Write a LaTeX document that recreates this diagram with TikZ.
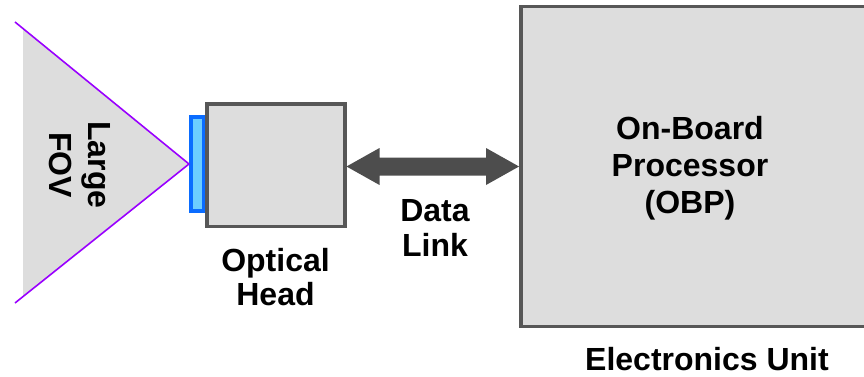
\documentclass[tikz,border=0pt]{standalone}
\usepackage{fontspec}
\setmainfont{Liberation Sans}
\usetikzlibrary{calc}
\definecolor{boxfill}{HTML}{DDDDDD}
\definecolor{boxline}{HTML}{575757}
\definecolor{arrowgrey}{HTML}{4D4D4D}
\definecolor{fovline}{HTML}{9900FF}
\definecolor{lensfill}{HTML}{6CCDFF}
\definecolor{lensline}{HTML}{0A6CFF}
\begin{document}
\begin{tikzpicture}[x=1pt,y=-1pt,
  unitbox/.style={draw=boxline,fill=boxfill,line width=3.5pt,inner sep=0pt},
  lensbox/.style={draw=lensline,fill=lensfill,line width=4pt,inner sep=0pt,
    minimum width=13pt,minimum height=94pt},
  lbl/.style={font=\bfseries\fontsize{32}{#1}\selectfont,align=center,inner sep=0pt},
  lbl/.default=34.5,
  fovray/.style={draw=fovline,line width=1.6pt}]
\useasboundingbox (0,0) rectangle (864,377);
% field of view
\coordinate (fovtop) at (15,22);
\coordinate (fovbot) at (15,303);
\node[lensbox] (lens) at (197.5,164) {};
\fill[boxfill] (23,28.4) -- (lens.west) -- (23,296.6) -- cycle;
\draw[fovray] (fovtop) -- (lens.west) -- (fovbot);
\node[lbl=38.4,rotate=-90] (fov) at (80,165) {Large\\FOV};
% optical head
\node[unitbox,minimum width=138pt,minimum height=122.5pt] (oh) at (275.75,165.3) {};
\node[lbl=34] (ohlbl) at (275.5,277.5) {Optical\\Head};
% electronics unit
\node[unitbox,minimum width=345.25pt,minimum height=319.5pt] (eu) at (693.4,166.5) {};
\node[lbl=37] (obp) at (690,168.5) {On-Board\\Processor\\(OBP)};
\node[lbl,anchor=base] (eulbl) at (707,370) {Electronics Unit};
% data link arrow
\fill[arrowgrey] (oh.east |- eu.west) -- ++(33,-18.5) -- ++(0,9.5)
  -- ($(eu.west)+(-33,-9)$) -- ++(0,-9.5) -- (eu.west) -- ++(-33,18.5)
  -- ++(0,-9.5) -- ($(oh.east |- eu.west)+(33,9)$) -- ++(0,9.5) -- cycle;
\node[lbl=34.4] (dl) at (435,228) {Data\\Link};
\end{tikzpicture}
\end{document}
